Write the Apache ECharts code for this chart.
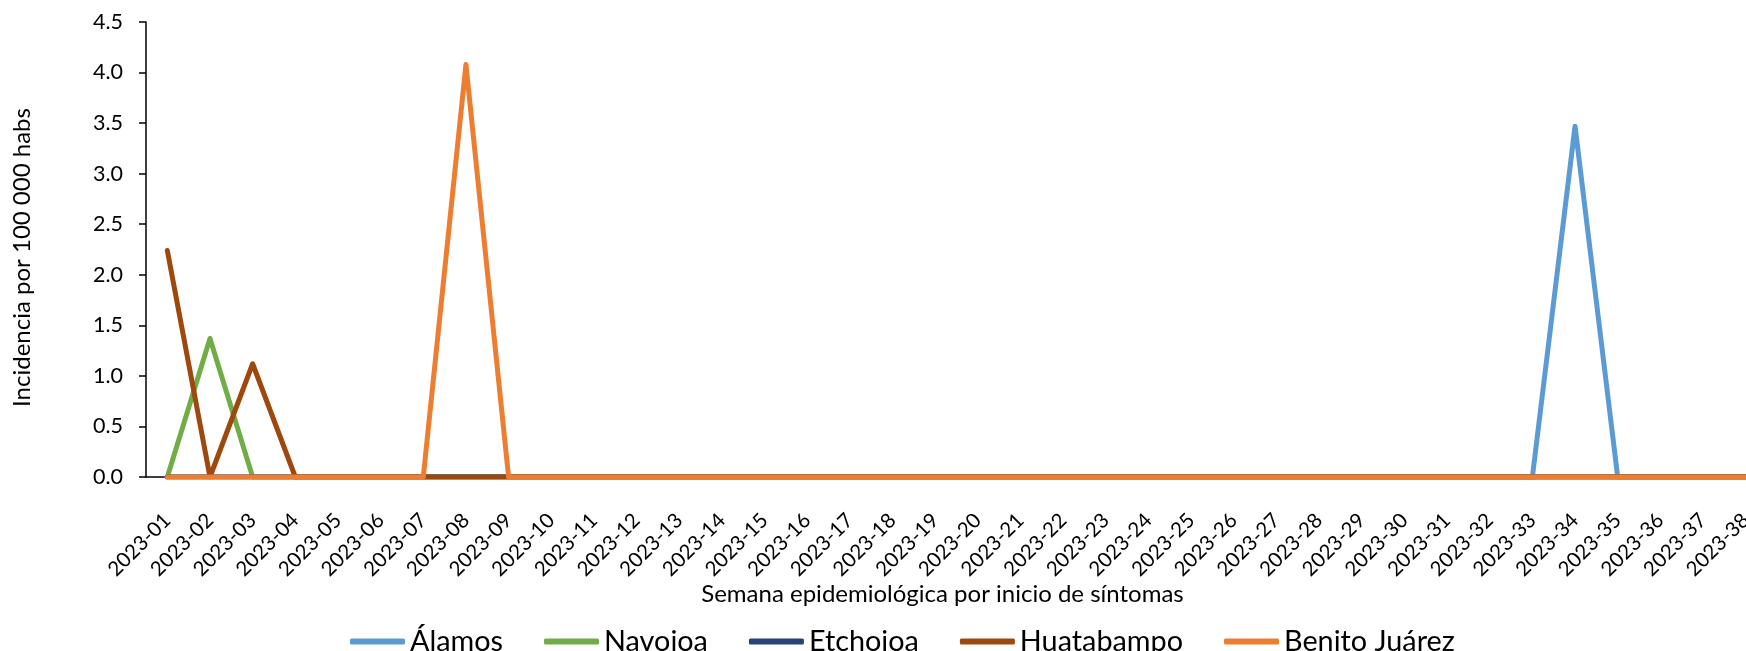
<!DOCTYPE html>
<html>
<head>
<meta charset="utf-8">
<script src="https://cdn.jsdelivr.net/npm/echarts@6/dist/echarts.min.js"></script>
<style>
html,body{margin:0;padding:0;background:#fff;}
#chart{width:1746px;height:651px;}
</style>
</head>
<body>
<div id="chart"></div>
<script>
const weeks = [];
for (let i = 1; i <= 38; i++) weeks.push('2023-' + String(i).padStart(2, '0'));

const seriesNames = ['Álamos', 'Navojoa', 'Etchojoa', 'Huatabampo', 'Benito Juárez'];
const seriesColors = ['#5B9BD5', '#70AD47', '#264478', '#9E480E', '#ED7D31'];

const alamos      = [0,0,0,0,0,0,0,0,0,0,0,0,0,0,0,0,0,0,0,0,0,0,0,0,0,0,0,0,0,0,0,0,0,3.47,0,0,0,0];
const navojoa     = [0,1.37,0,0,0,0,0,0,0,0,0,0,0,0,0,0,0,0,0,0,0,0,0,0,0,0,0,0,0,0,0,0,0,0,0,0,0,0];
const etchojoa    = [0,0,0,0,0,0,0,0,0,0,0,0,0,0,0,0,0,0,0,0,0,0,0,0,0,0,0,0,0,0,0,0,0,0,0,0,0,0];
const huatabampo  = [2.24,0,1.12,0,0,0,0,0,0,0,0,0,0,0,0,0,0,0,0,0,0,0,0,0,0,0,0,0,0,0,0,0,0,0,0,0,0,0];
const benitoJuarez= [0,0,0,0,0,0,0,4.08,0,0,0,0,0,0,0,0,0,0,0,0,0,0,0,0,0,0,0,0,0,0,0,0,0,0,0,0,0,0];

const allData = [alamos, navojoa, etchojoa, huatabampo, benitoJuarez];
const FONT = 'Lato';

const chart = echarts.init(document.getElementById('chart'), null, {renderer: 'canvas'});
chart.setOption({
  animation: false,
  backgroundColor: '#ffffff',
  textStyle: {fontFamily: FONT, color: '#000'},
  grid: {left: 146, width: 1621, top: 22, height: 455, containLabel: false, outerBoundsMode: 'none'},
  legend: {
    data: seriesNames,
    left: 345,
    top: 622,
    icon: 'roundRect',
    itemWidth: 55,
    itemHeight: 6,
    itemGap: 41,
    textStyle: {fontFamily: FONT, fontSize: 28.8, color: '#000'}
  },
  xAxis: {
    type: 'category',
    data: weeks,
    boundaryGap: true,
    name: 'Semana epidemiológica por inicio de síntomas',
    nameLocation: 'middle',
    nameGap: 105,
    nameMoveOverlap: false,
    nameTextStyle: {fontFamily: FONT, fontSize: 24, color: '#000', padding: [0, 28, 0, 0]},
    axisLine: {lineStyle: {color: '#000', width: 1.5}},
    axisTick: {alignWithLabel: true, length: 5, lineStyle: {color: '#000', width: 1.5}},
    axisLabel: {rotate: 45, interval: 0, margin: 40, padding: [14, 0, 0, 0], fontFamily: FONT, fontSize: 20.5, color: '#000'},
    splitLine: {show: false}
  },
  yAxis: {
    type: 'value',
    min: 0, max: 4.5, interval: 0.5,
    name: 'Incidencia por 100 000 habs',
    nameLocation: 'middle',
    nameGap: 112,
    nameMoveOverlap: false,
    nameTextStyle: {fontFamily: FONT, fontSize: 24, color: '#000', padding: [0, 16, 0, 0]},
    axisLine: {show: true, lineStyle: {color: '#000', width: 1.5}},
    axisTick: {show: true, length: 7, lineStyle: {color: '#000', width: 1.5}},
    axisLabel: {margin: 23, fontFamily: FONT, fontSize: 21.5, color: '#000', formatter: v => v.toFixed(1)},
    splitLine: {show: false}
  },
  series: seriesNames.map((n, i) => ({
    name: n,
    type: 'line',
    data: allData[i],
    showSymbol: false,
    symbol: 'none',
    color: seriesColors[i],
    lineStyle: {color: seriesColors[i], width: 5, cap: 'round', join: 'round'},
    z: 2 + i
  }))
});
</script>
</body>
</html>
